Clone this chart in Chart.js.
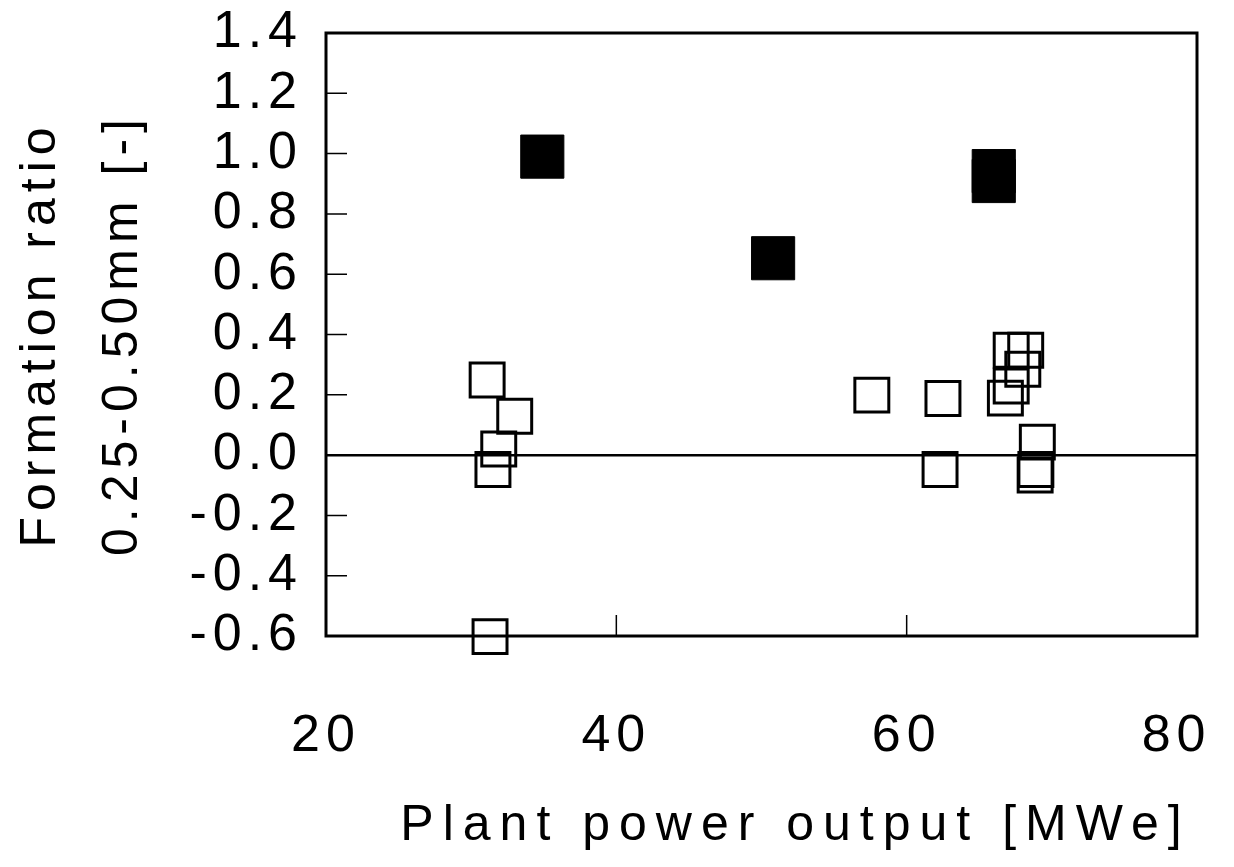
<!DOCTYPE html>
<html>
<head>
<meta charset="utf-8">
<script src="https://cdn.jsdelivr.net/npm/chart.js@4.4.1/dist/chart.umd.min.js"></script>
<style>
  html, body { margin: 0; padding: 0; background: #fff; }
</style>
</head>
<body>
<canvas id="myChart" width="1234" height="867"></canvas>
<script>
// axis ranges / ticks
const xTicks = [20, 40, 60, 80];
const yTicks = [-0.6, -0.4, -0.2, 0.0, 0.2, 0.4, 0.6, 0.8, 1.0, 1.2, 1.4];
const xTitle = 'Plant power output [MWe]';
const yTitle = ['Formation ratio', '0.25-0.50mm [-]'];

// filled squares
const filledX = [34.9, 50.8, 66.0, 66.0];
const filledY = [0.99, 0.653, 0.942, 0.909];

// open squares
const openX = [31.1, 33.0, 31.9, 31.5, 31.3, 57.6, 62.5, 62.3, 67.2, 68.2, 68.0, 67.2, 66.8, 69.0, 68.9, 68.85];
const openY = [0.249, 0.129, 0.02, -0.048, -0.602, 0.199, 0.188, -0.048, 0.348, 0.348, 0.285, 0.229, 0.189, 0.043, -0.048, -0.066];

const FONT = 'Liberation Sans, Arial, sans-serif';
const SPACING = '6px';

const toPoints = (xs, ys) => xs.map((x, i) => ({ x: x, y: ys[i] }));

// frame, inner tick marks, x title and letter spacing
const framePlugin = {
  id: 'framePlugin',
  beforeLayout(chart) { chart.ctx.letterSpacing = SPACING; },
  beforeDraw(chart) { chart.ctx.letterSpacing = SPACING; },
  afterDraw(chart) {
    const ctx = chart.ctx;
    const a = chart.chartArea;
    const xs = chart.scales.x;
    const ys = chart.scales.y;
    ctx.save();
    ctx.strokeStyle = '#000';
    ctx.lineWidth = 1.5;
    ctx.beginPath();
    yTicks.slice(1, -1).forEach(v => {
      const py = ys.getPixelForValue(v);
      ctx.moveTo(a.left, py);
      ctx.lineTo(a.left + 21, py);
    });
    xTicks.slice(1, -1).forEach(v => {
      const px = xs.getPixelForValue(v);
      ctx.moveTo(px, a.bottom);
      ctx.lineTo(px, a.bottom - 21);
    });
    ctx.stroke();
    ctx.lineWidth = 3;
    ctx.strokeRect(a.left, a.top, a.right - a.left, a.bottom - a.top);

    // x axis title (wider letter spacing than the tick labels)
    ctx.letterSpacing = '9px';
    ctx.font = '50px ' + FONT;
    ctx.fillStyle = '#000';
    ctx.textAlign = 'center';
    ctx.textBaseline = 'alphabetic';
    ctx.fillText(xTitle, (a.left + a.right) / 2 + 34, 840);
    ctx.restore();
  }
};

const ctx = document.getElementById('myChart').getContext('2d');

let myChart = new Chart(ctx, {
  type: 'scatter',
  data: {
    datasets: [{
      label: 'filled',
      data: toPoints(filledX, filledY),
      pointStyle: 'rect',
      pointRadius: 30.5,
      backgroundColor: '#000',
      borderColor: '#000',
      borderWidth: 1,
      clip: false
    }, {
      label: 'open',
      data: toPoints(openX, openY),
      pointStyle: 'rect',
      pointRadius: 24,
      backgroundColor: 'rgba(0,0,0,0)',
      borderColor: '#000',
      borderWidth: 3,
      clip: false
    }]
  },
  options: {
    responsive: false,
    animation: false,
    devicePixelRatio: 1,
    layout: { padding: { top: 33, right: 37, left: 0, bottom: 0 } },
    plugins: {
      legend: { display: false },
      tooltip: { enabled: false }
    },
    scales: {
      x: {
        type: 'linear',
        min: 20,
        max: 80,
        afterBuildTicks: s => { s.ticks = xTicks.map(v => ({ value: v })); },
        afterFit: s => { s.height = 231; s.paddingLeft = 0; s.paddingRight = 0; },
        ticks: {
          color: '#000',
          font: { family: FONT, size: 52 },
          padding: 61,
          maxRotation: 0,
          autoSkip: false,
          // last label sits a little inside the canvas edge, as in the original
          callback: v => v === 80 ? v + '  ' : String(v)
        },
        grid: { display: false },
        border: { display: false }
      },
      y: {
        min: -0.6,
        max: 1.4,
        afterBuildTicks: s => { s.ticks = yTicks.map(v => ({ value: v })); },
        afterFit: s => { s.width = 326; s.paddingTop = 0; s.paddingBottom = 0; },
        ticks: {
          color: '#000',
          font: { family: FONT, size: 52 },
          padding: 23,
          autoSkip: false,
          callback: v => v.toFixed(1)
        },
        grid: {
          drawTicks: false,
          color: c => (c.tick && Math.abs(c.tick.value) < 1e-9) ? '#000' : 'rgba(0,0,0,0)',
          lineWidth: 2.5
        },
        border: { display: false },
        title: {
          display: true,
          text: yTitle,
          color: '#000',
          font: { family: FONT, size: 50, lineHeight: '82px' },
          padding: { top: 0, bottom: 0 }
        }
      }
    }
  },
  plugins: [framePlugin]
});
</script>
</body>
</html>
